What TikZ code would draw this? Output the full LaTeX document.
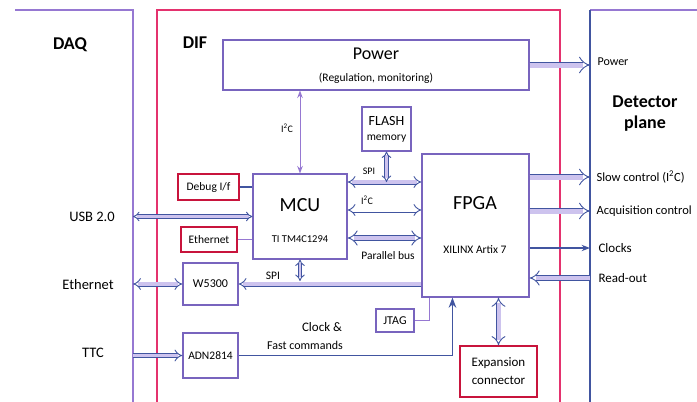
\documentclass[tikz,border=0pt]{standalone}
\usepackage{fontspec}
\setmainfont{Carlito}
\usepackage{tikz}
\usetikzlibrary{arrows.meta}
\definecolor{boxpurple}{RGB}{120,100,190}
\definecolor{linepurple}{RGB}{150,120,210}
\definecolor{difred}{RGB}{228,50,110}
\definecolor{boxred}{RGB}{200,20,60}
\definecolor{busblue}{RGB}{65,85,160}
\definecolor{busfill}{RGB}{205,195,238}

\begin{document}
\begin{tikzpicture}[x=1pt, y=-1pt,
			box_style/.style={draw=boxpurple, line width=1.1pt, rectangle, inner sep=0pt, align=center},
			red_box_style/.style={draw=boxred, line width=1.3pt, rectangle, inner sep=0pt, align=center},
			frame_style/.style={line width=1.2pt},
			bus_style/.style={draw=busblue, line width=0.9pt, double=busfill, double distance=3.2pt},
			thin_style/.style={draw=linepurple, line width=1pt},
			sig_style/.style={draw=busblue, line width=1.6pt}]
			\def\bigsize{\fontsize{20}{22}\selectfont}
			\def\midsize{\fontsize{14.5}{16}\selectfont}
			\def\size{\fontsize{11.5}{14}\selectfont}
			\def\tiny{\fontsize{10}{12}\selectfont}
			\useasboundingbox (0,0) rectangle (697,402);
			% frames
			\draw[frame_style, linepurple] (15,10) -- (133,10) -- (133,402);
			\draw[frame_style, difred] (157,402) -- (157,10) -- (560,10) -- (560,402);
			\draw[frame_style, linepurple] (697,10) -- (590,10);
			\draw[line width=1.6pt, busblue] (590,10) -- (590,402);
			\coordinate (daq) at (133,0);
			\coordinate (det) at (590,0);
			\node[font=\fontsize{18}{20}\selectfont\bfseries] (daq_lbl) at (70,45) {DAQ};
			\node[font=\fontsize{18}{20}\selectfont\bfseries] (dif_lbl) at (195,43) {DIF};
			\node[font=\fontsize{18}{20}\selectfont\bfseries, align=center] (det_lbl) at (645,114) {Detector\\[1pt]plane};
			
			% blocks
			\node[box_style, minimum width=306pt, minimum height=50pt] (power) at (376,65) {};
			\node[font=\fontsize{18}{20}\selectfont] (power_lbl) at (376,54) {Power};
			\node[font=\size] (power_sub) at (376,78) {(Regulation, monitoring)};
			\node[box_style, minimum width=49pt, minimum height=44pt, font=\size] (flash) at (386.5,129) {{\fontsize{14}{16}\selectfont FLASH}\\[1pt]memory};
			\node[box_style, minimum width=94pt, minimum height=85pt] (mcu) at (300,216.5) {};
			\node[font=\bigsize] (mcu_lbl) at (300,205) {MCU};
			\node[font=\fontsize{10.5}{12}\selectfont] (mcu_sub) at (300,239) {TI TM4C1294};
			\node[box_style, minimum width=107pt, minimum height=143pt] (fpga) at (475.5,225.5) {};
			\node[font=\bigsize] (fpga_lbl) at (475,203) {FPGA};
			\node[font=\size] (fpga_sub) at (475,250) {XILINX Artix 7};
			\node[red_box_style, minimum width=61pt, minimum height=26pt, font=\size] (debug) at (208.5,187) {Debug I/f};
			\node[red_box_style, minimum width=56pt, minimum height=25pt, font=\size] (eth) at (209,239.5) {Ethernet};
			\node[box_style, minimum width=55pt, minimum height=42pt, font=\fontsize{12}{14}\selectfont] (w5300) at (210.5,284) {W5300};
			\node[box_style, minimum width=55pt, minimum height=45pt, font=\size] (adn) at (210.5,355.5) {ADN2814};
			\node[box_style, minimum width=38pt, minimum height=23pt, font=\fontsize{12}{14}\selectfont] (jtag) at (395,320.5) {JTAG};
			\node[red_box_style, minimum width=77pt, minimum height=51pt, font=\fontsize{13}{18}\selectfont] (exp) at (498.5,371.5) {Expansion\\connector};
			
			% DAQ links
			\draw[bus_style, {Implies[scale=1.3]}-{Implies[scale=1.3]}, double distance=2.4pt] (mcu.west -| daq) -- (mcu.west);
			\draw[bus_style, {Implies[scale=1.3]}-{Implies[scale=1.3]}] (w5300.west -| daq) -- (w5300.west);
			\draw[bus_style, -{Implies[scale=1.3]}] (adn.west -| daq) -- (adn.west);
			\node[font=\midsize] (usb_lbl) at (92,217) {USB 2.0};
			\node[font=\midsize] (ethd_lbl) at (88,285) {Ethernet};
			\node[font=\midsize] (ttc_lbl) at (93,353) {TTC};
			
			% MCU links
			\draw[sig_style] (debug.east) -- (debug.east -| mcu.west);
			\draw[thin_style] (eth.east) -- (eth.east -| mcu.west);
			\draw[thin_style, {Stealth}-{Stealth}] (mcu.north) -- (mcu.north |- power.south);
			\node[font=\tiny] (i2c_pwr_lbl) at (287,128) {I\textsuperscript{2}C};
			\coordinate (spi_bus) at (0,182);
			\coordinate (i2c_bus) at (0,210);
			\coordinate (par_bus) at (0,238);
			\draw[bus_style, {Implies[scale=1.3]}-{Implies[scale=1.3]}] (spi_bus -| mcu.east) -- (spi_bus -| fpga.west);
			\draw[bus_style, {Implies[scale=1.3]}-{Implies[scale=1.3]}, double distance=2.4pt] (flash.south) -- (flash.south |- spi_bus);
			\draw[bus_style, {Implies[scale=1.3]}-{Implies[scale=1.3]}, double=white] (i2c_bus -| mcu.east) -- (i2c_bus -| fpga.west);
			\draw[bus_style, {Implies[scale=1.4]}-{Implies[scale=1.4]}, double distance=4.5pt] (par_bus -| mcu.east) -- (par_bus -| fpga.west);
			\node[font=\tiny] (spi_lbl) at (369,171) {SPI};
			\node[font=\tiny] (i2c_lbl) at (367,200) {I\textsuperscript{2}C};
			\node[font=\size] (par_lbl) at (388,256) {Parallel bus};
			\draw[bus_style, -{Implies[scale=1.3]}] (w5300.east -| fpga.west) -- (w5300.east);
			\draw[bus_style, {Implies[scale=1.3]}-{Implies[scale=1.3]}, double distance=2.4pt, shorten >=3pt] (mcu.south) -- (mcu.south |- w5300.east);
			\node[font=\size] (spi_w_lbl) at (273,276) {SPI};
			
			% FPGA bottom
			\draw[thin_style] (jtag.east) -| ([xshift=8pt]fpga.south west);
			\draw[sig_style, -{Stealth}] (adn.east) -| ([xshift=31pt]fpga.south west);
			\node[font=\fontsize{13}{15}\selectfont] (clk_lbl) at (322,327) {Clock \&};
			\node[font=\fontsize{12}{14}\selectfont] (fast_lbl) at (305,345) {Fast commands};
			\draw[bus_style, {Implies[scale=1.3]}-{Implies[scale=1.3]}, double distance=4pt] (fpga.south -| exp.north) -- (exp.north);
			
			% detector links
			\draw[bus_style, -{Implies[scale=1.4]}, double distance=5pt] (power.east) -- (power.east -| det);
			\node[font=\fontsize{12}{14}\selectfont, anchor=west] (pwr_lbl) at (594,62) {Power};
			\foreach \y/\name/\txt in {177/slow/Slow control (I\textsuperscript{2}C), 211/acq/Acquisition control}{
				\coordinate (\name) at (590,\y);
				\draw[bus_style, -{Implies[scale=1.4]}, double distance=5pt] (\name -| fpga.east) -- (\name);
				\node[font=\fontsize{12.5}{14}\selectfont, anchor=west] (\name_lbl) at (593,\y) {\txt};
			};
			\coordinate (clocks) at (590,248);
			\coordinate (readout) at (590,278);
			\draw[sig_style, line width=1.2pt, -{Stealth}] (clocks -| fpga.east) -- (clocks);
			\draw[bus_style, -{Implies[scale=1.4]}, double distance=4.5pt] (readout) -- (readout -| fpga.east);
			\node[font=\fontsize{13}{15}\selectfont, anchor=west] (clocks_lbl) at (595,248) {Clocks};
			\node[font=\fontsize{13}{15}\selectfont, anchor=west] (readout_lbl) at (595,278) {Read-out};
		\end{tikzpicture}
\end{document}
